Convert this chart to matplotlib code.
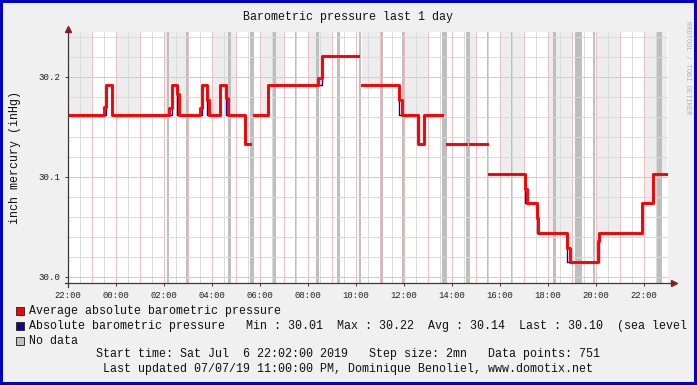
import matplotlib.pyplot as plt
import numpy as np
from matplotlib.patches import Rectangle

nan = np.nan

# times are minutes since Sat Jul 6 22:00, values in inHg
avg_t = [0, 91, 94, 109, 253, 259, 272, 277, 330, 334, 347, 353, 379, 395, 399,
         442, 455, 465, 501, 626, 634, 726, 734, 828, 834, 876, 891, 934, 947,
         995, 1005, 1047, 1052, 1143, 1147, 1172, 1176, 1247, 1254, 1324, 1327,
         1434, 1462, 1497]
avg_v = [30.162, 30.170, 30.192, 30.162, 30.169, 30.192, 30.183, 30.162,
         30.169, 30.192, 30.177, 30.162, 30.192, 30.179, 30.162, 30.133, nan,
         30.162, 30.192, 30.199, 30.221, nan, 30.192, 30.177, 30.162, 30.133,
         30.162, nan, 30.133, nan, 30.133, nan, 30.103, 30.088, 30.074, 30.059,
         30.044, 30.029, 30.015, 30.036, 30.044, 30.074, 30.103, 30.103]

abs_t = [0, 94, 109, 259, 272, 334, 347, 379, 395, 442, 455, 465, 501, 634,
         726, 734, 828, 876, 891, 934, 947, 995, 1005, 1047, 1052, 1143, 1172,
         1247, 1327, 1434, 1462, 1497]
abs_v = [30.162, 30.192, 30.162, 30.192, 30.162, 30.192, 30.162, 30.192,
         30.162, 30.133, nan, 30.162, 30.192, 30.221, nan, 30.192, 30.162,
         30.133, 30.162, nan, 30.133, nan, 30.133, nan, 30.103, 30.074, 30.044,
         30.015, 30.044, 30.074, 30.103, 30.103]

# no data intervals (minutes since start)
nodata = [(247, 252), (295, 300), (400, 407), (455, 465), (512, 520),
          (567, 572), (620, 628), (672, 680), (727, 732), (780, 787),
          (835, 842), (934, 947), (995, 1005), (1047, 1052), (1107, 1112),
          (1212, 1220), (1267, 1285), (1312, 1317), (1472, 1485)]

xtick_labels = ['22:00', '00:00', '02:00', '04:00', '06:00', '08:00', '10:00',
                '12:00', '14:00', '16:00', '18:00', '20:00', '22:00']
ytick_vals = [30.0, 30.1, 30.2]

W, H = 697, 385
mono = 'Liberation Mono'
ybot, ytop = 29.9933, 30.2447

fig = plt.figure(figsize=(W / 100, H / 100), dpi=100)
fig.patch.set_facecolor('#f0f0f0')
fig.patches.append(Rectangle((0, 0), 1, 1, transform=fig.transFigure,
                             fill=False, edgecolor='#0000c8', lw=4.3))

ax = fig.add_axes([68 / W, 1 - 283.3 / H, 600 / W, 251.3 / H])
ax.set_facecolor('white')
ax.set_xlim(0, 1500)
ax.set_ylim(ybot, ytop)
for s in ax.spines.values():
    s.set_visible(False)


def step_at(times, vals, t):
    i = np.searchsorted(times, t, side='right') - 1
    return vals[i]


# alternate hour shading above the curve
for k in range(0, 25, 2):
    w0, w1 = 60 * k, min(60 * k + 60, 1497)
    if w0 >= w1:
        continue
    xs = [w0] + [t for t in avg_t if w0 < t < w1] + [w1]
    ys = [step_at(avg_t, avg_v, x) for x in xs]
    ax.fill_between(xs, ys, ytop, step='post', color='#ededed', lw=0, zorder=1)

for a, b in nodata:
    ax.axvspan(a, b, color='#bebebe', lw=0, zorder=1.5)

# grid
for v in np.arange(30.0, 30.245, 0.02):
    ax.axhline(v, color='#dadada', lw=0.7, zorder=2)
for v in ytick_vals:
    ax.axhline(v, color='#f2bebe', lw=0.7, zorder=2.1)
for m in range(30, 1500, 60):
    ax.axvline(m, color='#dadada', lw=0.7, zorder=2)
for m in range(60, 1500, 60):
    ax.axvline(m, color='#f2bebe', lw=0.7, zorder=2.1)

ax.step(abs_t, abs_v, where='post', color='#200090', lw=1.0, zorder=3)
ax.step(avg_t, avg_v, where='post', color='#ff0000', lw=2.2, zorder=4,
        alpha=0.95)

# axes with arrows
ax.plot([-8, 1515], [ybot, ybot], color='#403838', lw=0.9, clip_on=False, zorder=5)
ax.plot([0, 0], [ybot - 0.004, ytop + 0.002], color='#403838', lw=0.9,
        clip_on=False, zorder=5)
ax.plot([1515], [ybot], marker='>', ms=4, color='#802020', clip_on=False, zorder=6)
ax.plot([0], [ytop + 0.003], marker='^', ms=4, color='#802020', clip_on=False,
        zorder=6)

ax.set_xticks(range(0, 1500, 120))
ax.set_xticklabels(xtick_labels, fontfamily=mono, fontsize=6.4, color='#202020')
ax.set_yticks(ytick_vals)
ax.set_yticklabels(['%.1f' % v for v in ytick_vals], fontfamily=mono,
                   fontsize=6.6, color='#202020')
ax.tick_params(axis='both', direction='out', length=2.5, width=0.7,
               color='#403838', pad=3)


def ftext(x, y, s, **kw):
    kw.setdefault('fontfamily', mono)
    kw.setdefault('fontsize', 8.4)
    kw.setdefault('color', '#101010')
    fig.text(x / W, 1 - y / H, s, **kw)


ftext(348, 17, 'Barometric pressure last 1 day', ha='center', va='center')
ftext(15, 157, 'inch mercury (inHg)', rotation=90, ha='center', va='center')
ftext(688, 68, 'RRDTOOL / TOBI OETIKER', rotation=270, ha='center',
      va='center', fontsize=5, color='#b0b0b0')

legend_rows = [
    ('#ff0000', 'Average absolute barometric pressure', 311),
    ('#200090', 'Absolute barometric pressure   Min : 30.01  Max : 30.22  '
                'Avg : 30.14  Last : 30.10  (sea level', 326),
    ('#c0c0c0', 'No data', 341),
]
for col, label, y in legend_rows:
    fig.patches.append(Rectangle((16 / W, 1 - (y + 4) / H), 8 / W, 8 / H,
                                 transform=fig.transFigure, facecolor=col,
                                 edgecolor='#303030', lw=0.7))
    ftext(29, y, label, ha='left', va='center')

ftext(348, 354, 'Start time: Sat Jul  6 22:02:00 2019   Step size: 2mn   '
      'Data points: 751', ha='center', va='center')
ftext(348, 369, 'Last updated 07/07/19 11:00:00 PM, Dominique Benoliel, '
      'www.domotix.net', ha='center', va='center')

fig.savefig('out.png', dpi=100, facecolor=fig.get_facecolor())
